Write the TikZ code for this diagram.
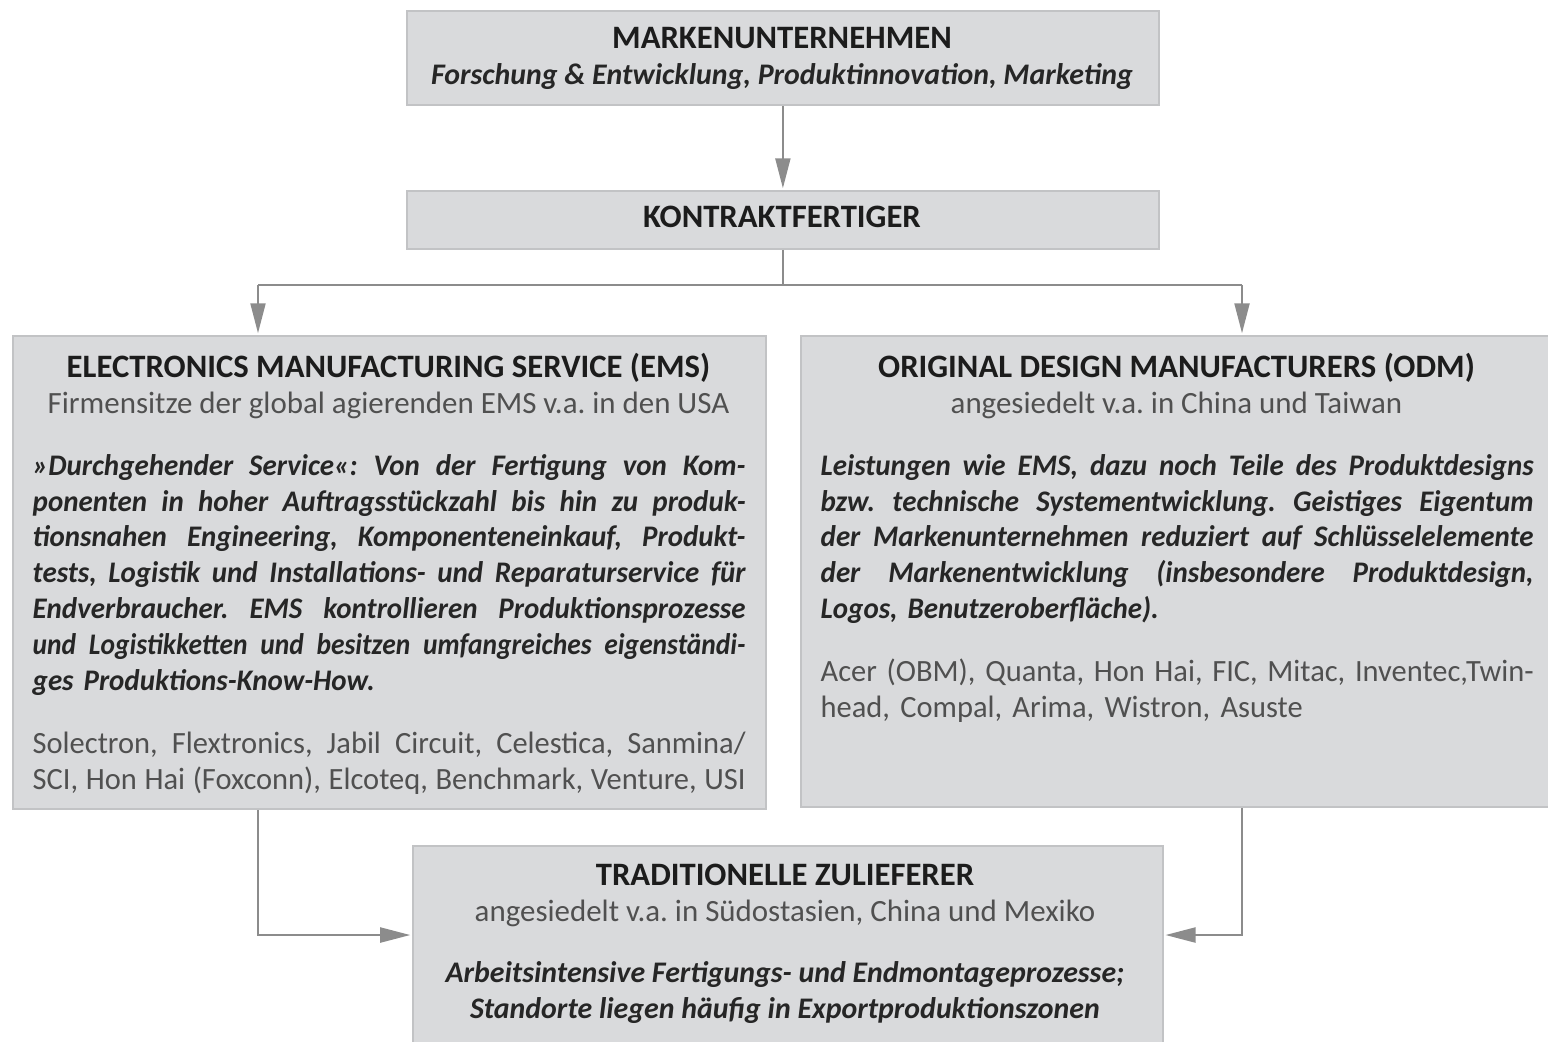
\documentclass[tikz,border=0pt]{standalone}
\usepackage{fontspec}
\setmainfont{Carlito}
\newfontfamily\bodyfont{Carlito}[FakeStretch=0.97]
\newfontfamily\tightbodyfont{Carlito}[FakeStretch=0.92]
\newfontfamily\listfont{Carlito}[FakeStretch=0.985]
\usetikzlibrary{arrows.meta}
\definecolor{boxgray}{HTML}{D9DADC}
\definecolor{boxline}{HTML}{C2C3C5}
\definecolor{linegray}{HTML}{8C8C8C}
\definecolor{subgray}{HTML}{505050}
\definecolor{titleblack}{HTML}{1C1C1C}
\definecolor{bodyblack}{HTML}{262626}
\newcommand{\titlesize}{\fontsize{9.3}{10.24}\selectfont}
\newcommand{\italsize}{\fontsize{8.5}{10.24}\selectfont}
% one justified line of a box text
\newcommand{\jline}[1]{\noindent\hbox to\hsize{\spaceskip=\fontdimen2\font plus 3\fontdimen2\font minus 0.3\fontdimen2\font\relax #1}\par}
\newcommand{\lastline}[1]{\noindent\hbox{#1}\par}
\frenchspacing

\begin{document}
\begin{tikzpicture}[
    box/.style={draw=boxline, fill=boxgray, line width=0.5pt, anchor=north west, inner sep=0pt},
    head/.style={align=center, anchor=base, inner sep=0pt, text=titleblack, font=\fontsize{8.8}{10.24}\selectfont},
    body/.style={text width=7.13cm, anchor=base west, inner sep=0pt, text=bodyblack, font=\fontsize{8.5}{10.24}\selectfont},
    conn/.style={draw=linegray, line width=0.6pt},
    arr/.style={conn, -{Triangle[length=0.3cm, width=0.15cm]}, shorten >=0.5pt}
]
    \useasboundingbox (0,0) rectangle (15.48,-10.41);

    % boxes
    \node [box, minimum width=7.52cm, minimum height=0.94cm] (marke) at (4.06,-0.10) {};
    \node [box, minimum width=7.52cm, minimum height=0.58cm] (kontrakt) at (4.06,-1.90) {};
    \node [box, minimum width=7.53cm, minimum height=4.73cm] (ems) at (0.12,-3.35) {};
    \node [box, minimum width=7.48cm, minimum height=4.71cm] (odm) at (8.00,-3.35) {};
    \node [box, minimum width=7.50cm, minimum height=2.10cm] (trad) at (4.12,-8.45) {};

    % texts (head nodes sit on the baseline of their last line)
    \node [head] (markehead) at (7.82,-0.84) {{\titlesize\bfseries MARKENUNTERNEHMEN}\\
        {\italsize\bfseries\itshape\color{bodyblack}Forschung \& Entwicklung, Produktinnovation, Marketing}};
    \node [head] (kontrakthead) at (7.82,-2.27) {\titlesize\bfseries KONTRAKTFERTIGER};

    \node [head] (emshead) at (3.885,-4.13) {{\titlesize\bfseries ELECTRONICS MANUFACTURING SERVICE (EMS)}\\
        {\color{subgray}Firmensitze der global agierenden EMS v.a. in den USA}};
    \node [body] (emsbody) at (0.32,-4.75) {\bodyfont\bfseries\itshape
        \jline{»Durchgehender Service«: Von der Fertigung von Kom-}
        \jline{ponenten in hoher Auftragsstückzahl bis hin zu produk-}
        \jline{tionsnahen Engineering, Komponenteneinkauf, Produkt-}
        \jline{tests, Logistik und Installations- und Reparaturservice für}
        \jline{Endverbraucher. EMS kontrollieren Produktionsprozesse}
        \jline{\tightbodyfont und Logistikketten und besitzen umfangreiches eigenständi-}
        \lastline{ges Produktions-Know-How.}};
    \node [body, text=subgray, font=\fontsize{8.8}{10.24}\listfont] (emslist) at (0.32,-7.53) {
        \jline{Solectron, Flextronics, Jabil Circuit, Celestica, Sanmina/}
        \jline{SCI, Hon Hai (Foxconn), Elcoteq, Benchmark, Venture, USI}};

    \node [head] (odmhead) at (11.765,-4.13) {{\titlesize\bfseries ORIGINAL DESIGN MANUFACTURERS (ODM)}\\
        {\color{subgray}angesiedelt v.a. in China und Taiwan}};
    \node [body] (odmbody) at (8.20,-4.75) {\bodyfont\bfseries\itshape
        \jline{Leistungen wie EMS, dazu noch Teile des Produktdesigns}
        \jline{bzw. technische Systementwicklung. Geistiges Eigentum}
        \jline{der Markenunternehmen reduziert auf Schlüsselelemente}
        \jline{der Markenentwicklung (insbesondere Produktdesign,}
        \lastline{Logos, Benutzeroberfläche).}};
    \node [body, text=subgray, font=\fontsize{8.8}{10.24}\listfont] (odmlist) at (8.20,-6.81) {
        \jline{Acer (OBM), Quanta, Hon Hai, FIC, Mitac, Inventec,Twin-}
        \lastline{head, Compal, Arima, Wistron, Asuste}};

    \node [head] (tradhead) at (7.85,-9.21) {{\titlesize\bfseries TRADITIONELLE ZULIEFERER}\\
        {\color{subgray}angesiedelt v.a. in Südostasien, China und Mexiko}};
    \node [head, text=bodyblack, font=\italsize\bfseries\itshape] (tradbody) at (7.85,-10.18) {Arbeitsintensive Fertigungs- und Endmontageprozesse;\\
        Standorte liegen häufig in Exportproduktionszonen};

    % connectors
    \coordinate (lsplit) at (2.58,-2.85);
    \coordinate (rsplit) at (12.42,-2.85);
    \coordinate (lbend) at (2.58,-9.35);
    \coordinate (rbend) at (12.42,-9.35);
    \draw [arr] (marke.south) -- (kontrakt.north);
    \draw [conn] (kontrakt.south) -- (kontrakt.south |- lsplit);
    \draw [conn] (lsplit) -- (rsplit);
    \draw [arr] (lsplit) -- (lsplit |- ems.north);
    \draw [arr] (rsplit) -- (rsplit |- odm.north);
    \draw [arr] (lbend |- ems.south) -- (lbend) -- (lbend -| trad.west);
    \draw [arr] (rbend |- odm.south) -- (rbend) -- (rbend -| trad.east);
\end{tikzpicture}
\end{document}
